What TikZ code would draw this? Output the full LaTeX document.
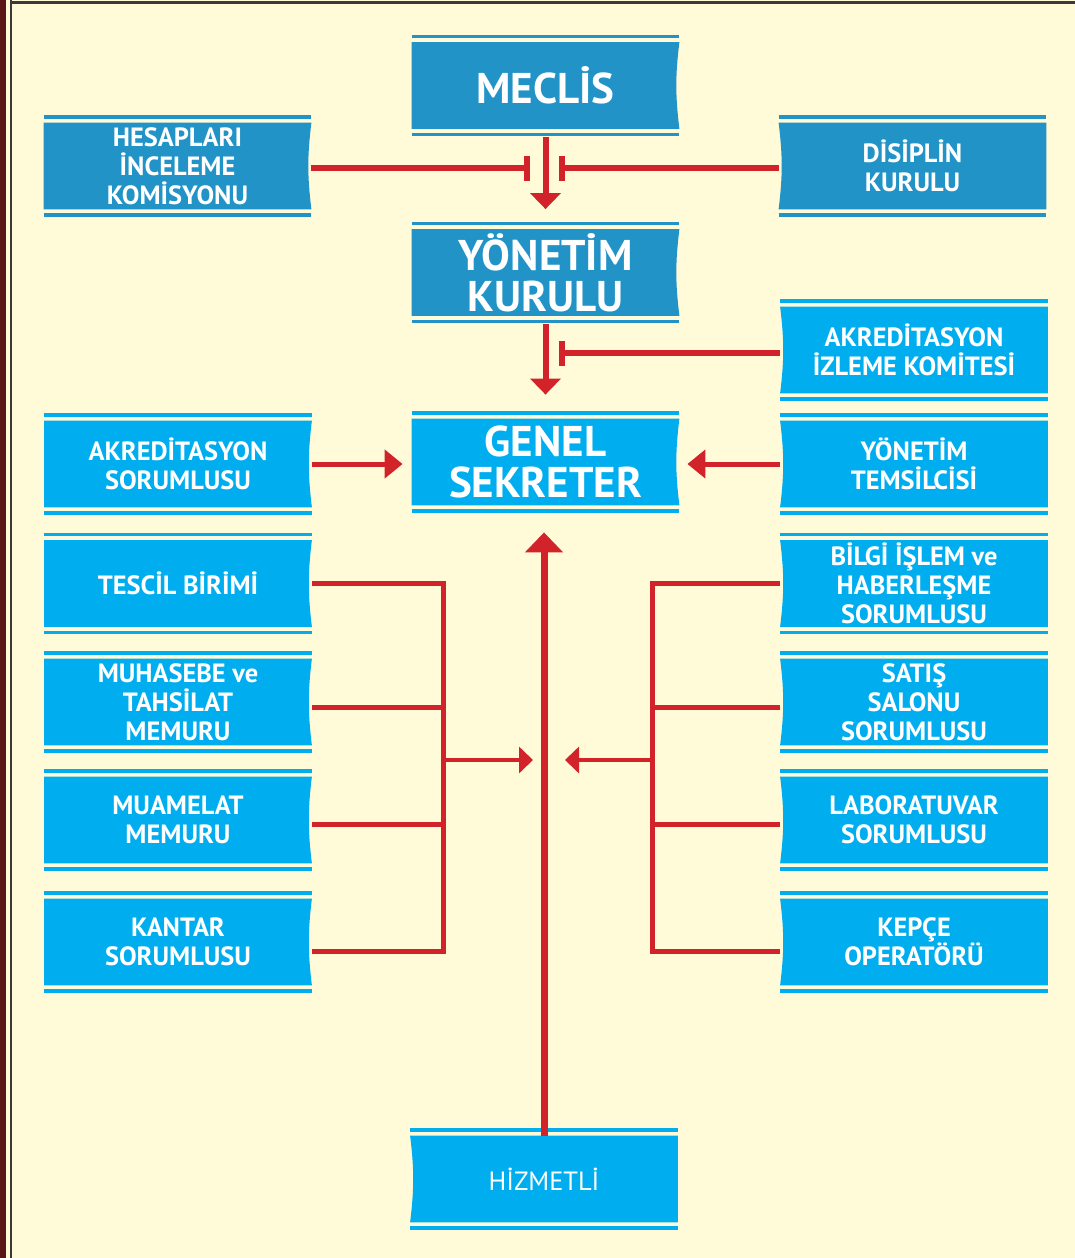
\documentclass[tikz,border=0pt]{standalone}
\usepackage{fontspec}
\setmainfont{PT Sans}
\usepackage{tikz}
\usetikzlibrary{arrows.meta, backgrounds}

\definecolor{cream}{HTML}{FFFAD7}
\definecolor{deepblue}{HTML}{2193C6}
\definecolor{skyblue}{HTML}{00AEEF}
\definecolor{linkred}{HTML}{D2232A}
\definecolor{framebrown}{HTML}{5A1616}
\definecolor{framegray}{HTML}{3A3A3A}

\tikzstyle{unit} = [text=white, align=center, inner sep=0pt, minimum width=133.5pt, minimum height=43pt, font=\bfseries\fontsize{13.2}{14.6}\selectfont]
\tikzstyle{head} = [unit, font=\bfseries\fontsize{21.5}{20.5}\selectfont]
\tikzstyle{line} = [linkred, line width=2.5pt]
\tikzstyle{arrow} = [line, -{Triangle[width=14pt, length=9pt]}]
\tikzstyle{down} = [line, line width=3pt, -{Triangle[width=15pt, length=8pt]}]
\tikzstyle{feed} = [line, line width=2.25pt, -{Triangle[width=13pt, length=7pt]}]
\tikzstyle{barred} = [line, line width=3pt, -{Bar[width=12.5pt]}]

% box with the curved side on the right / on the left, plus its two rules
\newcommand{\panelR}[2]{%
  \begin{scope}[on background layer]
    \fill[#2] (#1.north west) -- (#1.north east) to[bend right=7] (#1.south east) -- (#1.south west) -- cycle;
    \draw[#2, line width=1.75pt] ([yshift=2.75pt]#1.north west) -- ([yshift=2.75pt]#1.north east);
    \draw[#2, line width=1.75pt] ([yshift=-2.75pt]#1.south west) -- ([yshift=-2.75pt]#1.south east);
  \end{scope}}
\newcommand{\panelL}[2]{%
  \begin{scope}[on background layer]
    \fill[#2] (#1.north west) -- (#1.north east) -- (#1.south east) -- (#1.south west) to[bend right=7] cycle;
    \draw[#2, line width=1.75pt] ([yshift=2.75pt]#1.north west) -- ([yshift=2.75pt]#1.north east);
    \draw[#2, line width=1.75pt] ([yshift=-2.75pt]#1.south west) -- ([yshift=-2.75pt]#1.south east);
  \end{scope}}

\begin{document}
\begin{tikzpicture}[x=0.5pt, y=-0.5pt]

\useasboundingbox (0,0) rectangle (1075,1258);
\begin{scope}[on background layer]
\fill[cream] (0,0) rectangle (1075,1258);
\fill[framebrown] (0,0) rectangle (6,1258);
\fill[framegray] (9.5,0) rectangle (12,1258);
\fill[framegray] (9.5,1) rectangle (1075,3.5);
\end{scope}

\node (meclis) [head] at (545.5,85.5) {MECLİS};
\node (hesap) [unit] at (177.5,166) {HESAPLARI\\İNCELEME\\KOMİSYONU};
\node (disiplin) [unit] at (912.5,166) {DİSİPLİN\\KURULU};
\node (yonetim) [head] at (545.5,272.5) {YÖNETİM\\KURULU};
\node (akrizleme) [unit] at (914,350) {AKREDİTASYON\\İZLEME KOMİTESİ};
\node (genel) [head] at (545.5,462) {GENEL\\SEKRETER};
\node (akrsor) [unit] at (178,464) {AKREDİTASYON\\SORUMLUSU};
\node (temsil) [unit] at (914,464) {YÖNETİM\\TEMSİLCİSİ};
\node (tescil) [unit] at (178,583.5) {TESCİL BİRİMİ};
\node (muhasebe) [unit] at (178,702) {MUHASEBE ve\\TAHSİLAT\\MEMURU};
\node (muamelat) [unit] at (178,820) {MUAMELAT\\MEMURU};
\node (kantar) [unit] at (178,942) {KANTAR\\SORUMLUSU};
\node (bilgi) [unit] at (914,583.5) {BİLGİ İŞLEM ve\\HABERLEŞME\\SORUMLUSU};
\node (satis) [unit] at (914,702) {SATIŞ\\SALONU\\SORUMLUSU};
\node (lab) [unit] at (914,820) {LABORATUVAR\\SORUMLUSU};
\node (kepce) [unit] at (914,942) {KEPÇE\\OPERATÖRÜ};
\node (hizmetli) [unit, font=\fontsize{13.2}{14.6}\selectfont] at (544,1179) {HİZMETLİ};

\panelR{meclis}{deepblue}
\panelR{hesap}{deepblue}
\panelL{disiplin}{deepblue}
\panelR{yonetim}{deepblue}
\panelL{akrizleme}{skyblue}
\panelR{genel}{skyblue}
\panelR{akrsor}{skyblue}
\panelL{temsil}{skyblue}
\panelR{tescil}{skyblue}
\panelR{muhasebe}{skyblue}
\panelR{muamelat}{skyblue}
\panelR{kantar}{skyblue}
\panelL{bilgi}{skyblue}
\panelL{satis}{skyblue}
\panelL{lab}{skyblue}
\panelL{kepce}{skyblue}
\panelL{hizmetli}{skyblue}

\coordinate (barL) at (530,168);
\coordinate (barR) at (559,168);
\coordinate (barK) at (559,353);
\coordinate (lbus) at (443,760);
\coordinate (rbus) at (652,760);

\draw [down, shorten <=4pt, shorten >=10pt] (meclis) -- (yonetim);
\draw [barred] (hesap.east |- barL) -- (barL);
\draw [barred] (disiplin.west |- barR) -- (barR);
\draw [down, shorten <=4pt, shorten >=12pt] (yonetim) -- (genel);
\draw [barred] (akrizleme.west |- barK) -- (barK);
\draw [arrow, shorten >=4.5pt] (akrsor.east) -- (akrsor.east -| genel.west);
\draw [arrow, shorten >=4pt] (temsil.west) -- (temsil.west -| genel.east);

\draw [line] (tescil.east) -| (lbus);
\draw [line] ([yshift=-2.5pt]muhasebe.east) -- ([yshift=-2.5pt]muhasebe.east -| lbus);
\draw [line] ([yshift=-2pt]muamelat.east) -- ([yshift=-2pt]muamelat.east -| lbus);
\draw [line] ([yshift=-4.5pt]kantar.east) -| (lbus);
\draw [feed, shorten >=6.25pt] (lbus) -- (lbus -| genel.south);

\draw [line] (bilgi.west) -| (rbus);
\draw [line] ([yshift=-2.5pt]satis.west) -- ([yshift=-2.5pt]satis.west -| rbus);
\draw [line] ([yshift=-2pt]lab.west) -- ([yshift=-2pt]lab.west -| rbus);
\draw [line] ([yshift=-4.5pt]kepce.west) -| (rbus);
\draw [feed, shorten >=9.75pt] (rbus) -- (rbus -| genel.south);

\draw [line, line width=3.5pt, -{Triangle[width=18.5pt, length=10pt]}, shorten >=13.5pt] (hizmetli.north) -- (hizmetli.north |- genel.south);

\end{tikzpicture}
\end{document}
